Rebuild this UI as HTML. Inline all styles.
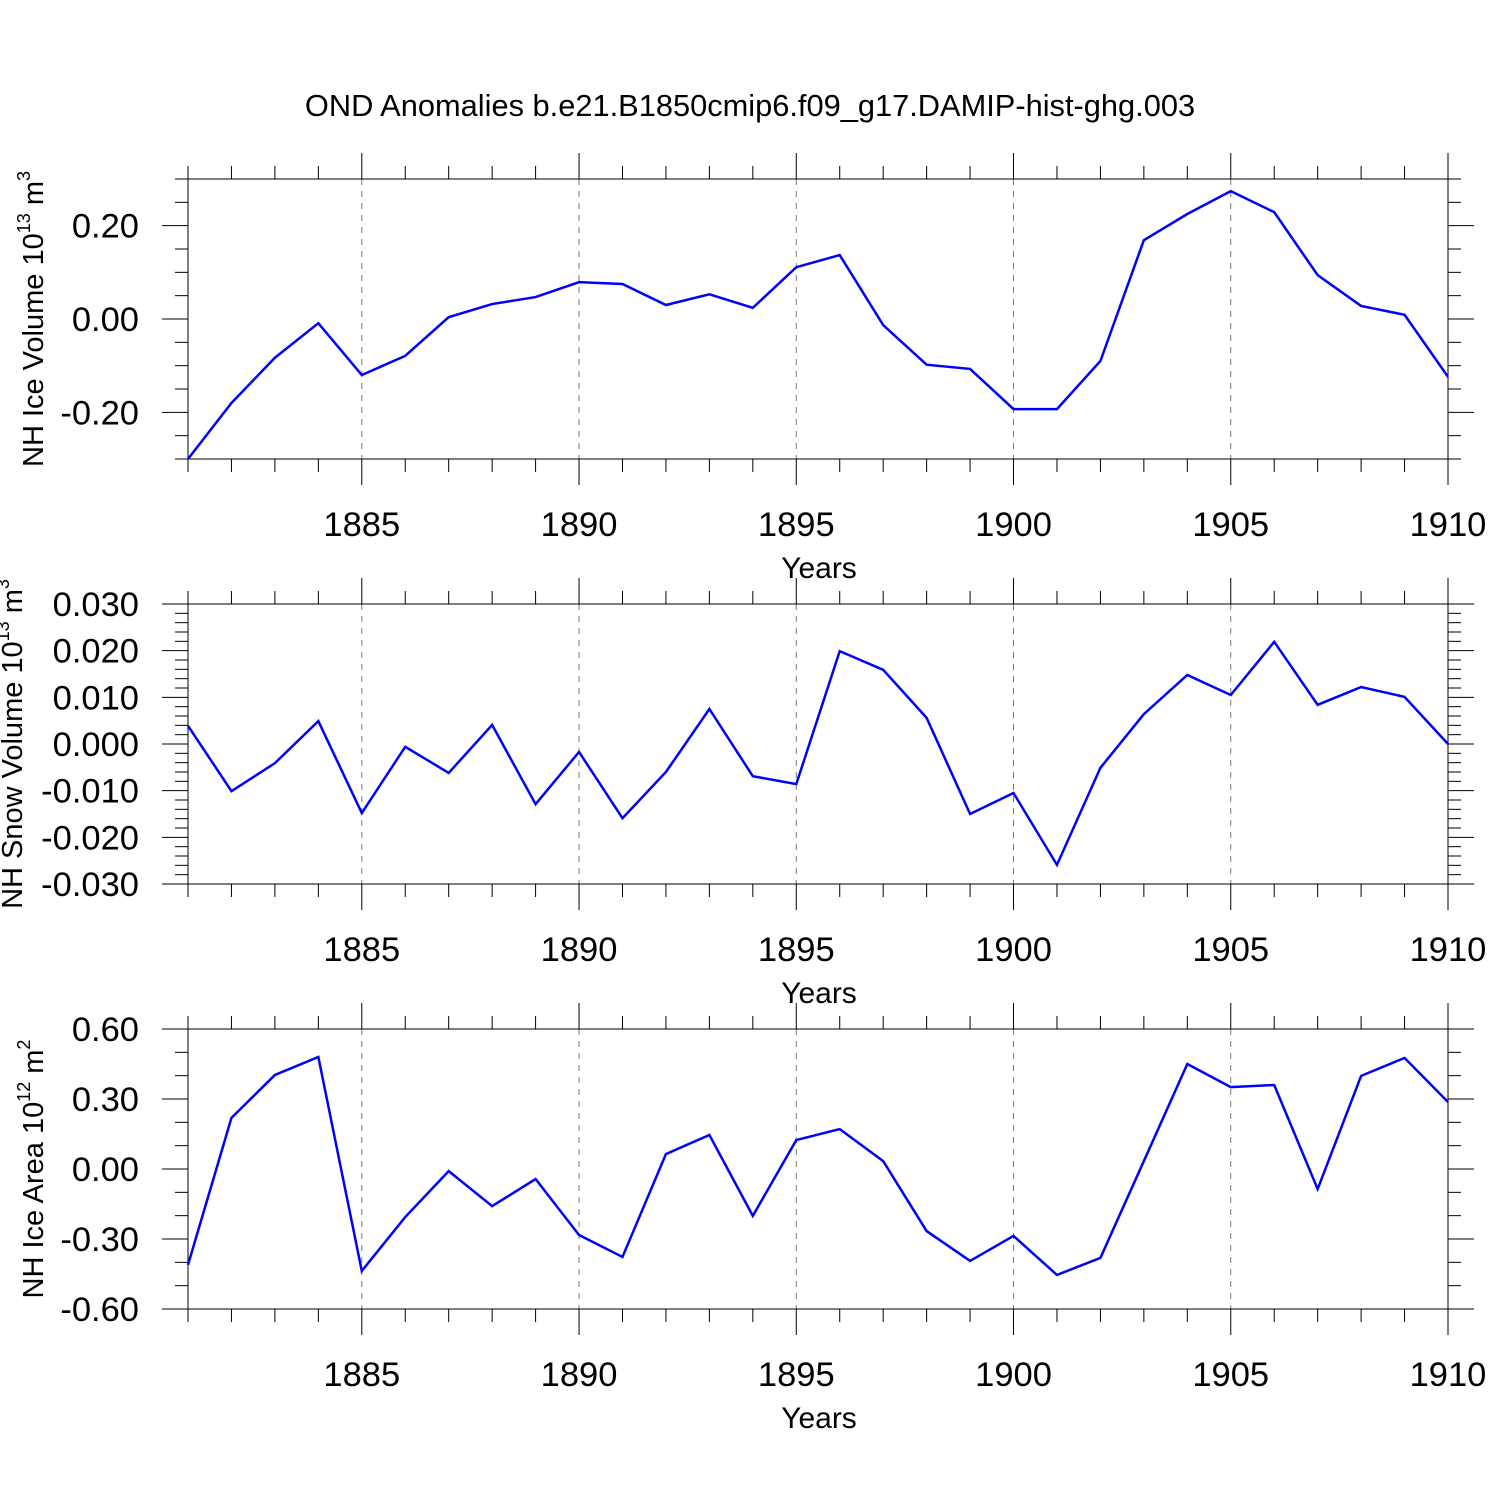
<!DOCTYPE html>
<html><head><meta charset="utf-8"><style>
html,body{margin:0;padding:0;background:#fff;}
svg{display:block;font-family:"Liberation Sans",sans-serif;}
</style></head><body>
<svg id="chart" width="1500" height="1500" viewBox="0 0 1500 1500" xmlns="http://www.w3.org/2000/svg">
<text x="750" y="116" text-anchor="middle" font-size="30.8">OND Anomalies b.e21.B1850cmip6.f09_g17.DAMIP-hist-ghg.003</text>
</svg>
<script>
const years = [1881,1882,1883,1884,1885,1886,1887,1888,1889,1890,1891,1892,1893,1894,1895,1896,1897,1898,1899,1900,1901,1902,1903,1904,1905,1906,1907,1908,1909,1910];
const iceVolume = [-0.30,-0.18,-0.083,-0.009,-0.12,-0.079,0.004,0.032,0.047,0.079,0.075,0.030,0.053,0.024,0.111,0.137,-0.013,-0.098,-0.107,-0.193,-0.193,-0.090,0.169,0.225,0.274,0.229,0.094,0.028,0.009,-0.124];
const snowVolume = [0.0039,-0.0101,-0.0041,0.0049,-0.0148,-0.0006,-0.0062,0.0041,-0.0129,-0.0017,-0.0159,-0.006,0.0075,-0.0069,-0.0086,0.0199,0.0159,0.0056,-0.015,-0.0105,-0.0259,-0.0051,0.0064,0.0148,0.0105,0.0219,0.0084,0.0122,0.0101,0.0];
const iceArea = [-0.411,0.219,0.403,0.48,-0.437,-0.206,-0.009,-0.159,-0.043,-0.283,-0.377,0.064,0.146,-0.201,0.124,0.171,0.034,-0.266,-0.394,-0.287,-0.454,-0.381,0.034,0.45,0.351,0.36,-0.086,0.399,0.476,0.287];
const xTickLabels = ["1885","1890","1895","1900","1905","1910"];
const iceVolumeTicks = ["0.20","0.00","-0.20"];
const snowVolumeTicks = ["0.030","0.020","0.010","0.000","-0.010","-0.020","-0.030"];
const iceAreaTicks = ["0.60","0.30","0.00","-0.30","-0.60"];

const svg = document.getElementById('chart');
const NS = 'http://www.w3.org/2000/svg';
function mk(tag, attrs, parent){const e=document.createElementNS(NS,tag);for(const k in attrs)e.setAttribute(k,attrs[k]);(parent||svg).appendChild(e);return e;}
const X0=188,X1=1448,YR0=1881,YR1=1910;
const xs = v => X0+(v-YR0)/(YR1-YR0)*(X1-X0);

function panel(name, top, ymin, ymax, minorStep, tickLabels, values, titleParts, titleX){
  const bot=top+280;
  const ys = v => bot-(v-ymin)/(ymax-ymin)*(bot-top);
  const g=mk('g',{});
  
  
  for(let y=1885;y<=1905;y+=5){
    const l=mk('line',{x1:xs(y),x2:xs(y),y1:top,y2:bot,stroke:'#777','stroke-width':1,'stroke-dasharray':'6,6'},g);
    
    
  }
  for(let y=YR0;y<=YR1;y++){
    const major=(y%5===0);const len=major?26:13;
    mk('line',{x1:xs(y),x2:xs(y),y1:top-len,y2:top,stroke:'#000','stroke-width':1},g);
    mk('line',{x1:xs(y),x2:xs(y),y1:bot,y2:bot+len,stroke:'#000','stroke-width':1},g);
  }
  const majorVals=tickLabels.map(Number);
  const n=Math.round((ymax-ymin)/minorStep);
  for(let i=0;i<=n;i++){
    const v=ymin+i*minorStep;
    const major=majorVals.some(m=>Math.abs(m-v)<minorStep*0.01);
    const len=major?26:13;
    mk('line',{x1:X0-len,x2:X0,y1:ys(v),y2:ys(v),stroke:'#000','stroke-width':1},g);
    mk('line',{x1:X1,x2:X1+len,y1:ys(v),y2:ys(v),stroke:'#000','stroke-width':1},g);
  }
  tickLabels.forEach(t=>{
    const el=mk('text',{x:139,y:ys(+t)+12,'text-anchor':'end','font-size':34.5},g);
    el.textContent=t;
    
    
  });
  xTickLabels.forEach(t=>{
    const el=mk('text',{x:xs(+t),y:bot+77,'text-anchor':'middle','font-size':34.5},g);
    el.textContent=t;
    
    
  });
  const xt=mk('text',{x:819,y:bot+119,'text-anchor':'middle','font-size':30},g);
  xt.textContent='Years';
  
  
  const fr=mk('rect',{x:X0,y:top,width:X1-X0,height:bot-top,fill:'none',stroke:'#000','stroke-width':1},g);
  
  
  const pts=values.map((v,i)=>xs(years[i])+','+ys(v)).join(' ');
  const pl=mk('polyline',{points:pts,fill:'none',stroke:'#0000ff','stroke-width':2.5,'stroke-linejoin':'miter'},g);
  
  
  const cy=(top+bot)/2;
  const yt=mk('text',{transform:`translate(${titleX},${cy}) rotate(-90)`,'text-anchor':'middle','font-size':29},g);
  
  
  const a=mk('tspan',{},yt);a.textContent=titleParts[0];
  const b=mk('tspan',{dy:-13,'font-size':18},yt);b.textContent=titleParts[1];
  const c=mk('tspan',{dy:13},yt);c.textContent=' m';
  const d=mk('tspan',{dy:-13,'font-size':18},yt);d.textContent=titleParts[2];
}
panel('ice-volume',179,-0.3,0.3,0.05,iceVolumeTicks,iceVolume,['NH Ice Volume 10','13','3'],43);
panel('snow-volume',604,-0.03,0.03,0.002,snowVolumeTicks,snowVolume,['NH Snow Volume 10','13','3'],22);
panel('ice-area',1029,-0.6,0.6,0.1,iceAreaTicks,iceArea,['NH Ice Area 10','12','2'],43);
</script>
</body></html>
